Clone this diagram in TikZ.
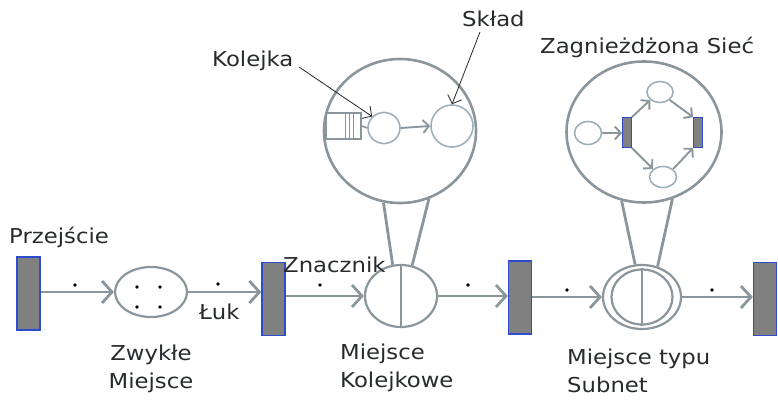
\documentclass[tikz,border=0pt]{standalone}
\usepackage{fontspec}
\setmainfont{DejaVu Sans}[FakeStretch=1.11]
\usetikzlibrary{arrows.meta,shapes.geometric}
\definecolor{arcgray}{RGB}{138,150,156}
\definecolor{netgray}{RGB}{158,176,184}
\definecolor{transfill}{RGB}{128,128,128}
\definecolor{transedge}{RGB}{45,75,205}
\definecolor{txt}{RGB}{40,43,45}
\begin{document}
\begin{tikzpicture}[x=1pt,y=-1pt,
  trans/.style={draw=transedge,fill=transfill,line width=1.3pt,inner sep=0pt,
    minimum width=23pt,minimum height=73pt},
  smalltrans/.style={draw=transedge,fill=transfill,line width=0.8pt,inner sep=0pt,
    minimum width=9pt,minimum height=30pt},
  place/.style={ellipse,draw=arcgray,line width=2.2pt,inner sep=0pt},
  zoomed/.style={ellipse,draw=arcgray,line width=2.6pt,inner sep=0pt},
  subplace/.style={ellipse,draw=netgray,line width=1.6pt,inner sep=0pt},
  arc/.style={draw=arcgray,line width=2.8pt,-{Straight Barb[length=10pt,width=22pt,line width=2.8pt]}},
  subarc/.style={draw=arcgray,line width=1.9pt,-{Straight Barb[length=6pt,width=13pt,line width=1.9pt]}},
  funnel/.style={draw=arcgray,line width=2.8pt},
  token/.style={circle,fill=black,inner sep=0pt,minimum size=3.8pt},
  pointer/.style={draw=black!85,line width=0.8pt,-{Straight Barb[length=7pt,width=15pt]}},
  lbl/.style={text=txt,font=\fontsize{20.5}{27.5}\selectfont,inner sep=0pt}]
\useasboundingbox (0,0) rectangle (778,403);

% transitions and places on the main line
\node[trans] (t1) at (28.5,293.5) {};
\node[place,minimum width=72pt,minimum height=50pt] (p1) at (151,292) {};
\node[trans] (t2) at (273.5,299) {};
\node[place,minimum width=72pt,minimum height=62pt] (p2) at (401,296) {};
\node[trans] (t3) at (520,297.5) {};
\node[place,minimum width=78pt,minimum height=64pt] (p3) at (642,297) {};
\node[place,minimum width=61pt,minimum height=55pt] (p3in) at (642,297) {};
\node[trans] (t4) at (765,299) {};

% tokens inside the ordinary place
\node[token] (k1) at (137,287) {};
\node[token] (k2) at (160,287) {};
\node[token] (k3) at (137,307) {};
\node[token] (k4) at (160,307) {};

% split lines of the queueing and subnet places
\draw[arcgray,line width=2.2pt] (p2.north) -- (p2.south);
\draw[arcgray,line width=2.2pt] (p3in.north) -- (p3in.south);

% arcs
\draw[arc] (t1.east |- p1.west) -- (p1.west);
\draw[arc] (p1.east) -- (p1.east -| t2.west);
\draw[arc] (t2.east |- p2.west) -- (p2.west);
\draw[arc] (p2.east) -- (p2.east -| t3.west);
\draw[arc] (t3.east |- p3.west) -- (p3.west);
\draw[arc] (p3.east) -- (p3.east -| t4.west);

% tokens travelling on the arcs
\node[token] (a1) at (75,285) {};
\node[token] (a2) at (218,284) {};
\node[token] (a3) at (320,285) {};
\node[token] (a4) at (468,285) {};
\node[token] (a5) at (567,290) {};
\node[token] (a6) at (712,290) {};

% magnified view of the queueing place
\node[zoomed,minimum width=152pt,minimum height=144pt] (qz) at (400,131) {};
\draw[funnel] (qz.-103.6) -- (p2.105);
\draw[funnel] (qz.-67) -- (p2.70);
\node[draw=arcgray,line width=1.8pt,minimum width=35pt,minimum height=26pt,inner sep=0pt] (queue) at (343.5,126) {};
\draw[arcgray,line width=1pt] (345,113) -- (345,139);
\draw[arcgray,line width=1pt] (349,113) -- (349,139);
\draw[arcgray,line width=1pt] (353,113) -- (353,139);
\node[subplace,minimum width=32pt,minimum height=31pt] (qs) at (384,128) {};
\node[subplace,minimum width=42pt,minimum height=42pt] (depo) at (452,126) {};
\draw[arcgray,line width=1.6pt] (queue.east) -- (qs.west);
\draw[subarc] (qs.east) -- (depo.west);

% magnified view of the subnet place
\node[zoomed,minimum width=155pt,minimum height=141pt] (sz) at (644,132) {};
\draw[funnel] (sz.-108) -- (p3.102.5);
\draw[funnel] (sz.-67) -- (p3.63);
\node[subplace,minimum width=27pt,minimum height=23pt] (n0) at (588,133) {};
\node[smalltrans] (nt1) at (627,132.5) {};
\node[subplace,minimum width=26pt,minimum height=21pt] (n1) at (660,92) {};
\node[subplace,minimum width=27pt,minimum height=21pt] (n2) at (663,177) {};
\node[smalltrans] (nt2) at (698,132.5) {};
\draw[subarc] (n0.east) -- (n0.east -| nt1.west);
\draw[subarc] (nt1.north east) -- (n1.south west);
\draw[subarc] (nt1.south east) -- (n2.north west);
\draw[subarc] (n1.south east) -- (nt2.north west);
\draw[subarc] (n2.north east) -- (nt2.south west);

% labels
\node[lbl,anchor=west] (lprz) at (9,237) {Przejście};
\node[lbl,align=center] (lzw) at (151,369) {Zwykłe\\Miejsce};
\node[lbl,anchor=west] (luk) at (199,312) {Łuk};
\node[lbl,anchor=west] (lzn) at (283,265) {Znacznik};
\node[lbl,align=left,anchor=west] (lmk) at (340,368) {Miejsce\\Kolejkowe};
\node[lbl,align=left,anchor=west] (lms) at (567,371) {Miejsce typu\\Subnet};
\node[lbl,anchor=west] (lzag) at (540,47) {Zagnieżdżona Sieć};
\node[lbl,anchor=west] (lsk) at (462,19) {Skład};
\node[lbl,anchor=west] (lkol) at (212,61) {Kolejka};

% pointers from the names to the parts they name
\coordinate (kstart) at (299,67);
\coordinate (sstart) at (480,32);
\draw[pointer] (kstart) -- (qs.north west);
\draw[pointer] (sstart) -- (depo.north);
\end{tikzpicture}
\end{document}
